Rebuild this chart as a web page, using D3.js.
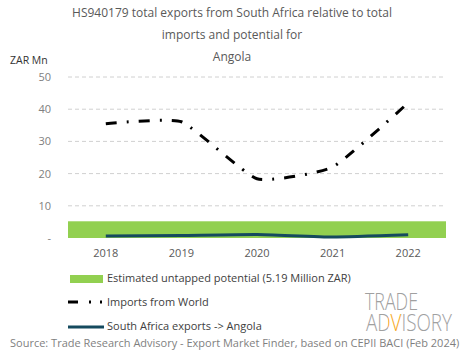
<!DOCTYPE html>
<html><head><meta charset="utf-8">
<script src="https://cdn.jsdelivr.net/npm/d3@7"></script>
<style>body{margin:0;background:#fff}svg{display:block}text{font-family:"Open Sans",sans-serif}</style>
</head><body><svg id="c" width="465" height="359"></svg>
<script>
const years = ["2018","2019","2020","2021","2022"];
const importsWorld = [35.5, 36.1, 18.4, 22.0, 42.0];
const saExports = [0.6, 0.8, 1.1, 0.3, 1.0];
const potential = 5.19;
const yTicks = [0, 10, 20, 30, 40, 50];
const titleLines = ["HS940179 total exports from South Africa relative to total", "imports and potential for", "Angola"];
const legendLabels = ["Estimated untapped potential (5.19 Million ZAR)", "Imports from World", "South Africa exports -> Angola"];

const svg = d3.select("#c");
const x = d3.scaleBand().domain(years).range([68, 446]);
const y = d3.scaleLinear().domain([0, 50]).range([238, 77]);

svg.append("g").selectAll("text").data(titleLines).join("text")
  .attr("x", 232).attr("y", (d,i)=>17+i*22).attr("text-anchor","middle")
  .attr("font-size", 12).attr("fill","#595959").text(d=>d);

svg.append("text").attr("x",10).attr("y",64).attr("font-size",10.5).attr("fill","#333").text("ZAR Mn");

svg.append("g").selectAll("line").data(yTicks.filter(d=>d>0)).join("line")
  .attr("x1",68).attr("x2",446).attr("y1",d=>y(d)).attr("y2",d=>y(d))
  .attr("stroke","#d0d0d0").attr("stroke-dasharray","4,3").attr("stroke-width",1);

const yAxis = d3.axisLeft(y).tickValues(yTicks).tickSize(0).tickPadding(0)
  .tickFormat(d=> d===0 ? "-" : d);
const ga = svg.append("g").attr("transform","translate(51,0)").call(yAxis);
ga.select(".domain").remove();
ga.selectAll("text").attr("font-size",11).attr("fill","#808080").attr("font-family","Open Sans, sans-serif");

const xAxis = d3.axisBottom(x).tickSize(0).tickPadding(0);
const gx = svg.append("g").attr("transform","translate(0,249)").call(xAxis);
gx.select(".domain").remove();
gx.selectAll("text").attr("font-size",11).attr("fill","#595959").attr("font-family","Open Sans, sans-serif");

svg.append("rect").attr("x",68).attr("width",446-68)
  .attr("y", y(potential)).attr("height", y(0)-y(potential)).attr("fill","#92d050");

const line = d3.line().x((d,i)=>x(years[i])+x.bandwidth()/2).y(d=>y(d)).curve(d3.curveCardinal.tension(0.55));

svg.append("path").attr("d", line(importsWorld)).attr("fill","none")
  .attr("stroke","#000").attr("stroke-width",3).attr("stroke-dasharray","11,10,2,10");

svg.append("path").attr("d", line(saExports)).attr("fill","none")
  .attr("stroke","#154a5e").attr("stroke-width",3);

const lg = svg.append("g");
lg.append("rect").attr("x",70).attr("y",275).attr("width",33).attr("height",8).attr("fill","#92d050");
lg.append("line").attr("x1",68).attr("x2",104).attr("y1",302).attr("y2",302)
  .attr("stroke","#000").attr("stroke-width",3).attr("stroke-dasharray","10,11,2,9,2,9");
lg.append("line").attr("x1",68).attr("x2",104).attr("y1",327).attr("y2",327)
  .attr("stroke","#154a5e").attr("stroke-width",3);
lg.selectAll("text").data(legendLabels).join("text")
  .attr("x",107).attr("y",(d,i)=>282+i*24).attr("font-size",11).attr("fill","#404040").text(d=>d);

svg.append("text").attr("x",10).attr("y",347).attr("font-size",11).attr("fill","#7f7f7f")
  .text("Source: Trade Research Advisory - Export Market Finder, based on CEPII BACI (Feb 2024)");

// logo
const defs = svg.append("defs");
const gr = defs.append("linearGradient").attr("id","vgrad").attr("x1","0").attr("x2","1").attr("y1","0").attr("y2","0");
[[0,"#a0a0a0"],[0.255,"#a0a0a0"],[0.255,"#f5a623"],[0.405,"#f5a623"],[0.405,"#a0a0a0"],[1,"#a0a0a0"]]
  .forEach(s=>gr.append("stop").attr("offset",s[0]).attr("stop-color",s[1]));
const logo = svg.append("g").attr("font-family","Roboto, sans-serif").attr("font-weight",300).attr("font-size",23);
function fitText(txt, tx, ty, w, fill){
  const t = logo.append("text").attr("x",0).attr("y",0).attr("fill",fill).text(txt);
  const len = t.node().getComputedTextLength() || w;
  t.attr("transform",`translate(${tx},${ty}) scale(${w/len},1)`);
}
fitText("TRADE", 365, 310, 53, "#a0a0a0");
fitText("ADVISORY", 366, 331, 86, "url(#vgrad)");
</script></body></html>
